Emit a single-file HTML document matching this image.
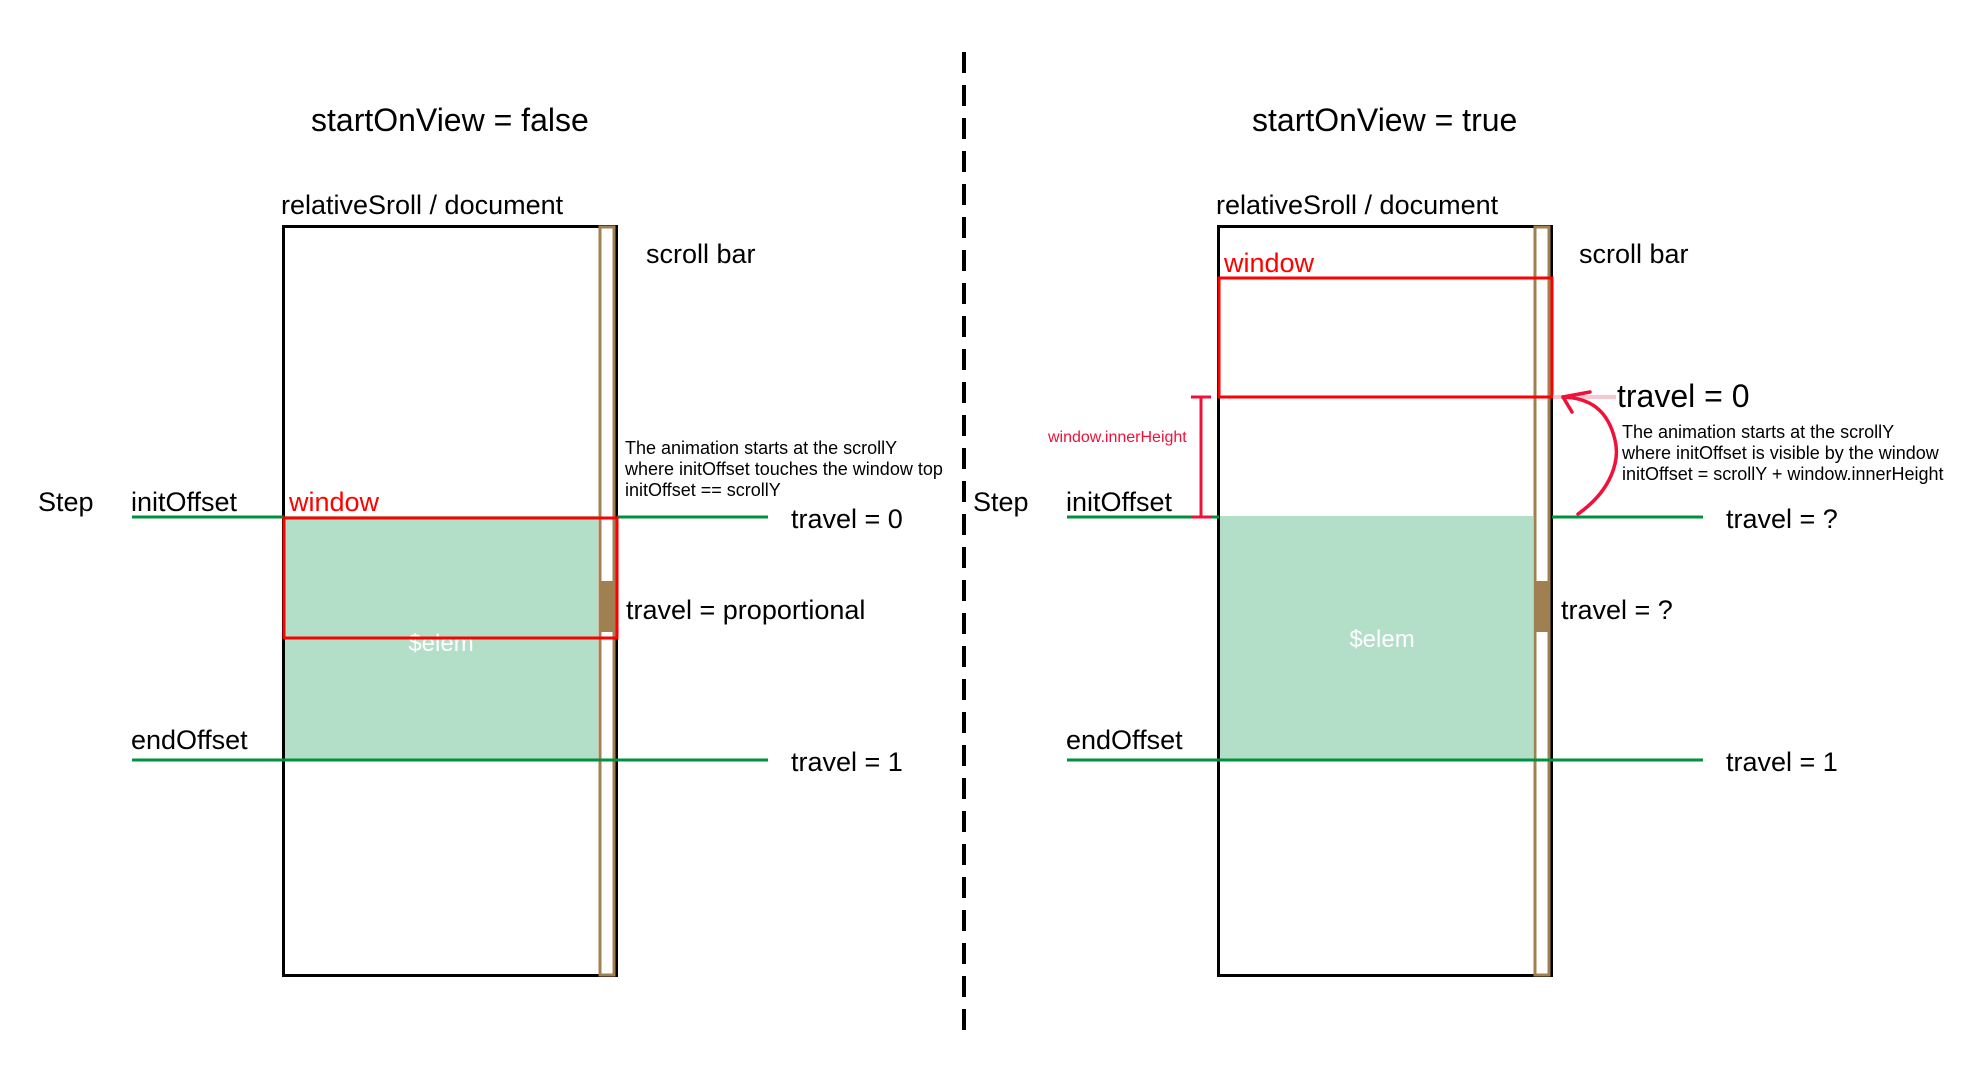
<!DOCTYPE html>
<html><head><meta charset="utf-8"><style>
html,body{margin:0;padding:0;background:#fff;}
svg{display:block;}
text{font-family:"Liberation Sans",Arial,sans-serif;}
</style></head><body>
<svg width="1980" height="1080" viewBox="0 0 1980 1080" xmlns="http://www.w3.org/2000/svg">
<line x1="964" y1="52" x2="964" y2="1037" stroke="#000" stroke-width="4" stroke-dasharray="21,12"/>

<text x="311" y="131" font-size="32">startOnView = false</text>
<text x="281" y="214" font-size="27">relativeSroll / document</text>
<text x="646" y="263" font-size="27">scroll bar</text>
<rect x="284" y="516" width="314" height="245" fill="#b3dfc9"/>
<rect x="283.5" y="226.5" width="333" height="749" fill="none" stroke="#000" stroke-width="3"/>
<rect x="600" y="227" width="14" height="748" fill="#fff" stroke="#a08050" stroke-width="3"/>
<rect x="600" y="581" width="14" height="51" fill="#a08050"/>
<text x="441" y="651" font-size="24" fill="#fff" text-anchor="middle">$elem</text>
<line x1="132" y1="517" x2="284" y2="517" stroke="#00913f" stroke-width="3"/>
<line x1="617" y1="517" x2="768" y2="517" stroke="#00913f" stroke-width="3"/>
<line x1="132" y1="760" x2="768" y2="760" stroke="#00913f" stroke-width="3"/>
<rect x="284" y="518" width="333" height="120" fill="none" stroke="#ff0000" stroke-width="3"/>
<text x="38" y="511" font-size="27">Step</text>
<text x="131" y="511" font-size="27">initOffset</text>
<text x="289" y="511" font-size="27" fill="#ff0000">window</text>
<text x="131" y="749" font-size="27">endOffset</text>
<text x="625" y="454" font-size="18">The animation starts at the scrollY</text>
<text x="625" y="475" font-size="18">where initOffset touches the window top</text>
<text x="625" y="496" font-size="18">initOffset == scrollY</text>
<text x="791" y="528" font-size="27">travel = 0</text>
<text x="626" y="619" font-size="27">travel = proportional</text>
<text x="791" y="771" font-size="27">travel = 1</text>

<text x="1252" y="131" font-size="32">startOnView = true</text>
<text x="1216" y="214" font-size="27">relativeSroll / document</text>
<text x="1579" y="263" font-size="27">scroll bar</text>
<rect x="1219" y="516" width="314" height="245" fill="#b3dfc9"/>
<rect x="1218.5" y="226.5" width="333" height="749" fill="none" stroke="#000" stroke-width="3"/>
<rect x="1535" y="227" width="14" height="748" fill="#fff" stroke="#a08050" stroke-width="3"/>
<rect x="1535" y="581" width="14" height="51" fill="#a08050"/>
<text x="1382" y="647" font-size="24" fill="#fff" text-anchor="middle">$elem</text>
<line x1="1067" y1="517" x2="1219" y2="517" stroke="#00913f" stroke-width="3"/>
<line x1="1552" y1="517" x2="1703" y2="517" stroke="#00913f" stroke-width="3"/>
<line x1="1067" y1="760" x2="1703" y2="760" stroke="#00913f" stroke-width="3"/>
<rect x="1219" y="278" width="333" height="119" fill="none" stroke="#ff0000" stroke-width="3"/>
<text x="1224" y="272" font-size="27" fill="#ff0000">window</text>
<text x="973" y="511" font-size="27">Step</text>
<text x="1066" y="511" font-size="27">initOffset</text>
<text x="1066" y="749" font-size="27">endOffset</text>
<g stroke="#f0103a" stroke-width="3">
<line x1="1201" y1="397" x2="1201" y2="517"/>
<line x1="1191" y1="397" x2="1211" y2="397"/>
<line x1="1191" y1="517" x2="1211" y2="517"/>
</g>
<text x="1048" y="442" font-size="16" fill="#f0103a">window.innerHeight</text>
<line x1="1553" y1="397" x2="1616" y2="397" stroke="#f8c8d2" stroke-width="4"/>
<path d="M1578,514 C1612,490 1620,460 1615,440 C1608,410 1590,398 1563,397" fill="none" stroke="#f0103a" stroke-width="3.5" stroke-linecap="round"/>
<path d="M1590,392 L1563,397 L1572,412" fill="none" stroke="#f0103a" stroke-width="3.5" stroke-linecap="round" stroke-linejoin="round"/>
<text x="1617" y="407" font-size="32">travel = 0</text>
<text x="1622" y="438" font-size="18">The animation starts at the scrollY</text>
<text x="1622" y="459" font-size="18">where initOffset is visible by the window</text>
<text x="1622" y="480" font-size="18">initOffset = scrollY + window.innerHeight</text>
<text x="1726" y="528" font-size="27">travel = ?</text>
<text x="1561" y="619" font-size="27">travel = ?</text>
<text x="1726" y="771" font-size="27">travel = 1</text>
</svg>
</body></html>
